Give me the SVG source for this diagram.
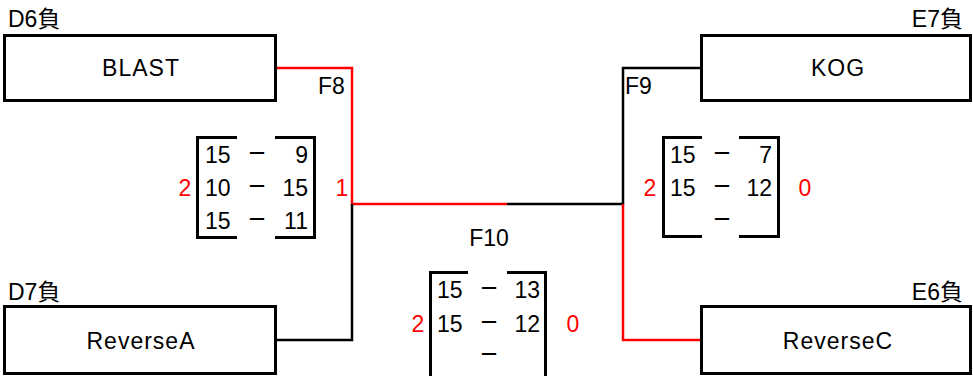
<svg xmlns="http://www.w3.org/2000/svg" width="973" height="376" viewBox="0 0 973 376">
<style>
text{font-family:"Liberation Sans","Noto Sans CJK JP",sans-serif;font-size:23px;fill:#000}
.r{fill:#FF0000}
.m{text-anchor:middle}
.e{text-anchor:end}
.d{font-size:20px;font-weight:bold}
.n{letter-spacing:1px}
.box{fill:#fff;stroke:#000;stroke-width:3}
.br{fill:none;stroke:#000;stroke-width:3}
.cb{fill:none;stroke:#000;stroke-width:2.5}
.cr{fill:none;stroke:#FF0000;stroke-width:2.5}
</style>
<rect width="973" height="376" fill="#fff"/>
<g id="connectors">
<polyline class="cr" points="276,68 352,68 352,204 507,204"/>
<polyline class="cb" points="276,340 352,340 352,204"/>
<polyline class="cb" points="507,204 623,204"/>
<polyline class="cb" points="700,68 623,68 623,205"/>
<polyline class="cr" points="623,204 623,340 700,340"/>
</g>
<g id="blast">
<text x="8" y="27">D6負</text>
<rect class="box" x="4.5" y="35.5" width="271" height="65"/>
<text class="m n" x="141" y="76">BLAST</text>
</g>
<g id="reverseA">
<text x="8" y="300">D7負</text>
<rect class="box" x="4.5" y="306.5" width="271" height="67"/>
<text class="m n" x="141" y="349">ReverseA</text>
</g>
<g id="kog">
<text class="e" x="963" y="27">E7負</text>
<rect class="box" x="701.5" y="35.5" width="269" height="65"/>
<text class="m n" x="838" y="76">KOG</text>
</g>
<g id="reverseC">
<text class="e" x="963" y="300">E6負</text>
<rect class="box" x="701.5" y="306.5" width="269" height="67"/>
<text class="m n" x="838" y="349">ReverseC</text>
</g>
<g id="f8">
<text x="318" y="94">F8</text>
<polyline class="br" points="237,137.5 197.5,137.5 197.5,237.5 237,237.5"/>
<polyline class="br" points="275,137.5 314.5,137.5 314.5,237.5 275,237.5"/>
<text x="205" y="163">15</text><text class="m d" x="257" y="161">－</text><text class="e" x="308" y="163">9</text>
<text x="205" y="196">10</text><text class="m d" x="257" y="194">－</text><text class="e" x="308" y="196">15</text>
<text x="205" y="229">15</text><text class="m d" x="257" y="227">－</text><text class="e" x="308" y="229">11</text>
<text class="r m" x="185" y="196">2</text>
<text class="r m" x="342" y="196">1</text>
</g>
<g id="f9">
<text x="625" y="94">F9</text>
<polyline class="br" points="702,137.5 663.5,137.5 663.5,236.5 702,236.5"/>
<polyline class="br" points="739,137.5 778.5,137.5 778.5,236.5 739,236.5"/>
<text x="670" y="163">15</text><text class="m d" x="722" y="161">－</text><text class="e" x="772" y="163">7</text>
<text x="670" y="196">15</text><text class="m d" x="722" y="194">－</text><text class="e" x="772" y="196">12</text>
<text class="m d" x="722" y="227">－</text>
<text class="r m" x="650" y="196">2</text>
<text class="r m" x="805" y="196">0</text>
</g>
<g id="f10">
<text class="m" x="489" y="246">F10</text>
<polyline class="br" points="468,272.5 430.5,272.5 430.5,376"/>
<polyline class="br" points="507,272.5 545.5,272.5 545.5,376"/>
<text x="437" y="298">15</text><text class="m d" x="489" y="296">－</text><text class="e" x="540" y="298">13</text>
<text x="437" y="332">15</text><text class="m d" x="489" y="330">－</text><text class="e" x="540" y="332">12</text>
<text class="m d" x="489" y="362">－</text>
<text class="r m" x="418" y="332">2</text>
<text class="r m" x="573" y="332">0</text>
</g>
</svg>
